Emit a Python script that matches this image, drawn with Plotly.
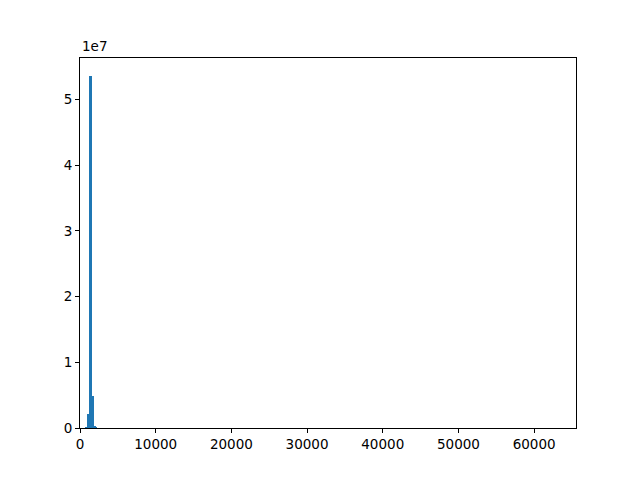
import plotly.graph_objects as go

# Histogram of values (256 bins spanning 0..65535, width 256)
bin_width = 256
bin_lefts = [768, 1024, 1280, 1536, 1792, 2048]
counts = [0.3e5, 2.1e6, 5.36e7, 4.85e6, 3.0e5, 1.0e5]

x_ticks = [0, 10000, 20000, 30000, 40000, 50000, 60000]
y_ticks = [0, 1e7, 2e7, 3e7, 4e7, 5e7]
y_tick_labels = ["0", "1", "2", "3", "4", "5"]

fig = go.Figure()
fig.add_trace(go.Bar(
    x=[l + bin_width / 2 for l in bin_lefts],
    y=counts,
    width=[bin_width] * len(counts),
    marker=dict(color="#1f77b4", line=dict(width=0)),
    hoverinfo="x+y",
))

font = dict(family="DejaVu Sans", size=13.5, color="black")
axis_common = dict(
    showline=True, linecolor="black", linewidth=1, mirror=True,
    ticks="outside", ticklen=4, tickwidth=1, tickcolor="black",
    showgrid=False, zeroline=False, tickfont=font,
)
# page body has an 8px margin; compensate so the plot area lands at 80..576 x 58..428
fig.update_layout(
    width=632, height=472,
    margin=dict(l=72, r=64, t=50, b=52),
    paper_bgcolor="white", plot_bgcolor="white",
    showlegend=False, bargap=0,
    xaxis=dict(range=[0, 65535], tickvals=x_ticks,
               ticktext=[str(v) for v in x_ticks], **axis_common),
    yaxis=dict(range=[0, 5.36e7 * 1.05], tickvals=y_ticks,
               ticktext=y_tick_labels, **axis_common),
    font=font,
)
fig.add_annotation(
    text="1e7", xref="paper", yref="paper", x=0, y=1,
    xanchor="left", yanchor="bottom", showarrow=False, yshift=2,
    font=font,
)
fig.write_html("out.html")
